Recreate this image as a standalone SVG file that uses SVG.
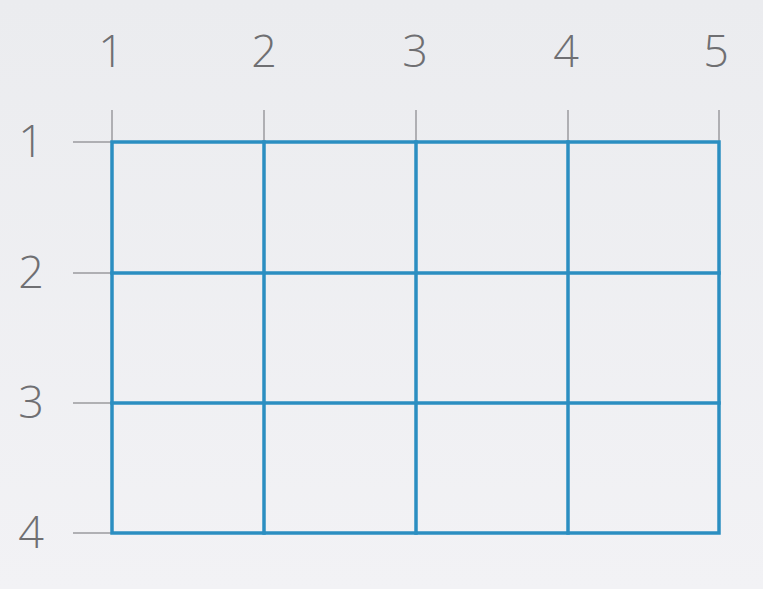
<svg xmlns="http://www.w3.org/2000/svg" width="763" height="589" viewBox="0 0 763 589">
<defs>
<linearGradient id="bg" x1="0" y1="0" x2="0" y2="1">
<stop offset="0" stop-color="#ebecef"/>
<stop offset="1" stop-color="#f2f2f5"/>
</linearGradient>
<style>
.lbl{font-family:"Open Sans","DejaVu Sans",sans-serif;font-weight:300;font-size:45px;fill:#6f6f72;text-anchor:middle}
.tick{stroke:#9a9a9e;stroke-width:1.5;fill:none}
.grid{stroke:#2b8ec1;stroke-width:3.5;fill:none;stroke-linecap:square}
</style>
</defs>
<rect width="763" height="589" fill="url(#bg)"/>
<g id="ticks">
<path class="tick" d="M112 110V142M264 110V142M416 110V142M568 110V142M719 110V142"/>
<path class="tick" d="M73 142H112M73 273H112M73 403H112M73 533H112"/>
</g>
<g id="labels">
<text class="lbl" x="111" y="67">1</text>
<text class="lbl" x="264" y="67">2</text>
<text class="lbl" x="415" y="67">3</text>
<text class="lbl" x="566" y="67">4</text>
<text class="lbl" x="716" y="67">5</text>
<text class="lbl" x="31" y="157">1</text>
<text class="lbl" x="31" y="288">2</text>
<text class="lbl" x="31" y="418">3</text>
<text class="lbl" x="31" y="548">4</text>
</g>
<g id="grid">
<rect class="grid" x="112" y="142" width="607" height="391"/>
<path class="grid" d="M264 142V533M416 142V533M568 142V533M112 273H719M112 403H719"/>
</g>
</svg>
